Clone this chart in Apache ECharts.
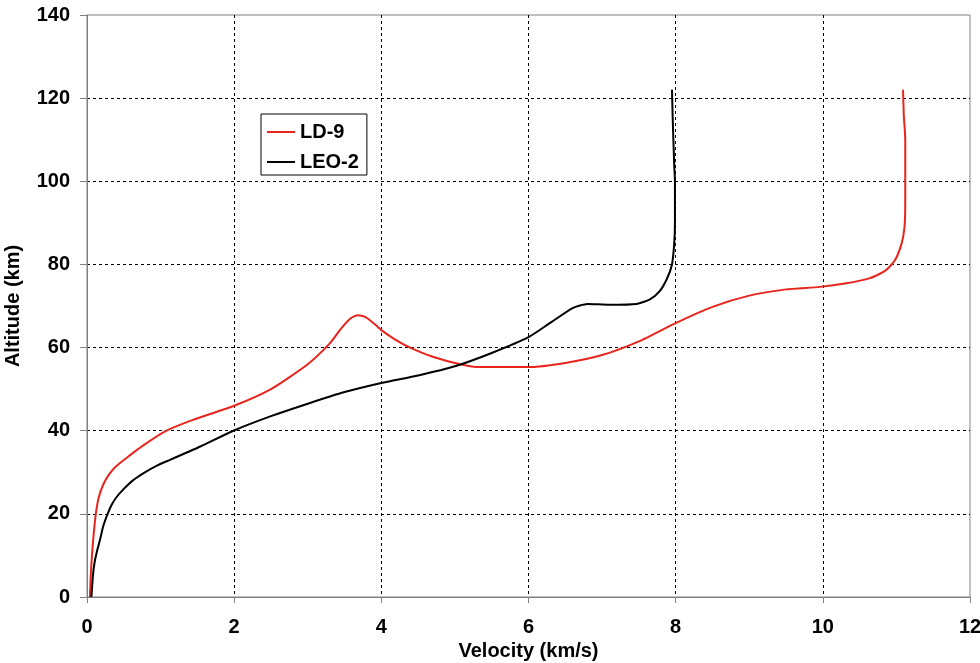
<!DOCTYPE html>
<html>
<head>
<meta charset="utf-8">
<script src="https://cdn.jsdelivr.net/npm/echarts@6/dist/echarts.min.js"></script>
<style>
html,body{margin:0;padding:0;background:#fff;}
#chart{width:980px;height:663px;}
</style>
</head>
<body>
<div id="chart"></div>
<script>
var xTicks = [0, 2, 4, 6, 8, 10, 12];
var yTicks = [0, 20, 40, 60, 80, 100, 120, 140];

var ld9Velocity = [0.04, 0.05, 0.07, 0.09, 0.12, 0.16, 0.22, 0.3, 0.4, 0.54, 0.76, 1.08, 1.44, 2.0, 2.5, 3.0, 3.3, 3.45, 3.58, 3.68, 3.78, 3.9, 4.0, 4.2, 4.39, 4.7, 5.07, 5.34, 6.0, 6.5, 7.0, 7.5, 8.0, 8.5, 9.0, 9.5, 9.96, 10.3, 10.64, 10.85, 10.98, 11.07, 11.11, 11.12, 11.12, 11.1, 11.09];
var ld9Altitude = [0, 5, 10.6, 15, 20, 24, 27, 29.5, 31.5, 33.5, 36.4, 40, 42.6, 46, 50, 56, 61, 64.5, 67, 67.8, 67.4, 65.8, 64.2, 61.8, 60, 57.8, 56, 55.3, 55.3, 56.3, 58.2, 61.5, 65.9, 69.8, 72.5, 74, 74.6, 75.4, 76.7, 78.5, 81, 85, 89, 95, 110, 116, 122];

var leo2Velocity = [0.06, 0.08, 0.1, 0.13, 0.18, 0.22, 0.27, 0.33, 0.4, 0.5, 0.62, 0.77, 0.95, 1.13, 1.54, 1.99, 2.5, 3.0, 3.5, 4.0, 4.5, 5.0, 5.5, 6.0, 6.3, 6.6, 6.8, 7.1, 7.47, 7.65, 7.78, 7.88, 7.95, 7.98, 7.99, 7.99, 7.98, 7.96, 7.95];
var leo2Altitude = [0, 5, 8, 10.6, 14, 17, 19.5, 22, 24, 26, 28, 29.8, 31.6, 33, 36.2, 40, 43.5, 46.5, 49.3, 51.5, 53.3, 55.5, 58.7, 62.5, 66, 69.5, 70.5, 70.3, 70.5, 71.6, 73.5, 76.5, 80, 85, 90, 100, 104, 115, 122];

function zip(xs, ys) { return xs.map(function (x, i) { return [x, ys[i]]; }); }

var font = 'Arial, "Liberation Sans", sans-serif';
var chart = echarts.init(document.getElementById('chart'), null, {renderer: 'canvas'});
chart.setOption({
  animation: false,
  backgroundColor: '#fff',
  grid: {left: 87, right: 10, top: 15, bottom: 66, containLabel: false, outerBoundsMode: 'none',
         show: true, borderColor: '#808080', borderWidth: 1, backgroundColor: 'transparent'},
  legend: {
    orient: 'vertical', left: 261, top: 114,
    backgroundColor: '#fff',
    borderColor: '#000', borderWidth: 1,
    padding: [8, 8, 3, 6],
    icon: 'rect',
    itemGap: 10, itemWidth: 28, itemHeight: 2,
    textStyle: {fontFamily: font, fontWeight: 'bold', fontSize: 20, color: '#000', lineHeight: 19},
    data: ['LD-9', 'LEO-2']
  },
  xAxis: {
    type: 'value', min: xTicks[0], max: xTicks[xTicks.length - 1], interval: 2,
    name: 'Velocity (km/s)', nameLocation: 'middle', nameGap: 41,
    nameTextStyle: {fontFamily: font, fontWeight: 'bold', fontSize: 20, color: '#000'},
    axisLine: {show: true, lineStyle: {color: '#808080', width: 1}},
    axisTick: {show: true, length: 6, lineStyle: {color: '#808080'}},
    axisLabel: {margin: 20, fontFamily: font, fontWeight: 'bold', fontSize: 20, color: '#000'},
    splitLine: {show: true, showMinLine: false, showMaxLine: false, lineStyle: {color: '#000', type: [3, 3], width: 1}}
  },
  yAxis: {
    type: 'value', min: yTicks[0], max: yTicks[yTicks.length - 1], interval: 20,
    name: 'Altitude (km)', nameLocation: 'middle', nameGap: 64, nameRotate: 90,
    nameTextStyle: {fontFamily: font, fontWeight: 'bold', fontSize: 20, color: '#000'},
    axisLine: {show: true, lineStyle: {color: '#808080', width: 1}},
    axisTick: {show: true, length: 7, lineStyle: {color: '#808080'}},
    axisLabel: {margin: 17, fontFamily: font, fontWeight: 'bold', fontSize: 20, color: '#000'},
    splitLine: {show: true, showMinLine: false, showMaxLine: false, lineStyle: {color: '#000', type: [3, 3], width: 1}}
  },
  series: [
    {name: 'LD-9', type: 'line', data: zip(ld9Velocity, ld9Altitude), symbol: 'none', smooth: 0.2,
     lineStyle: {color: '#e8251c', width: 2}, itemStyle: {color: '#e8251c'}},
    {name: 'LEO-2', type: 'line', data: zip(leo2Velocity, leo2Altitude), symbol: 'none', smooth: 0.2,
     lineStyle: {color: '#000', width: 2}, itemStyle: {color: '#000'}}
  ]
});
</script>
</body>
</html>
